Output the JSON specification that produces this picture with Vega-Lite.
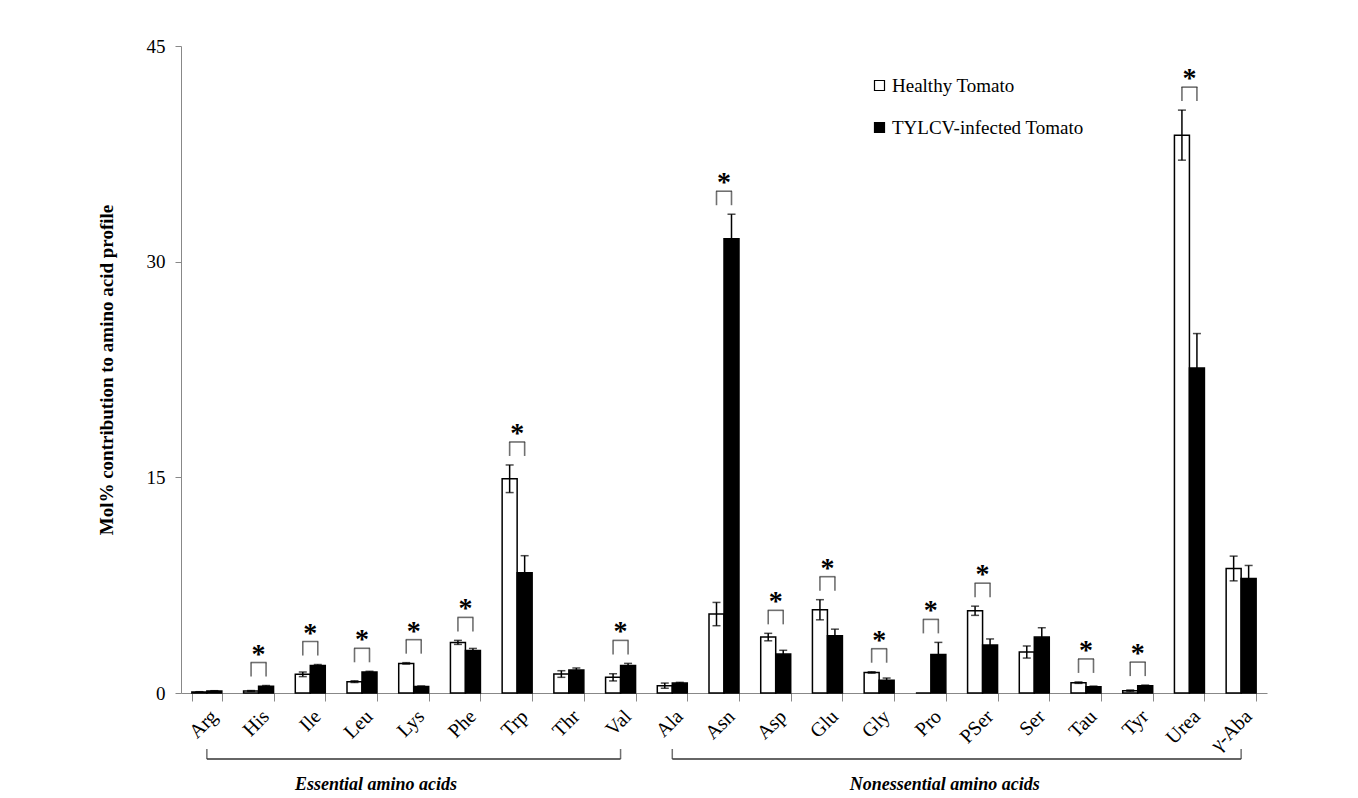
{
  "$schema": "https://vega.github.io/schema/vega-lite/v6.json",
  "autosize": {"type": "none"},
  "padding": {"left": 181, "top": 46, "right": 91, "bottom": 105},
  "width": 1086,
  "height": 647,
  "background": "white",
  "config": {
    "view": {"stroke": null},
    "font": "Liberation Serif",
    "text": {"font": "Liberation Serif"}
  },
  "datasets": {
    "amino": [
      {"amino": "Arg", "group": "Healthy Tomato", "value": 0.07, "err": 0.02, "sig": false},
      {"amino": "Arg", "group": "TYLCV-infected Tomato", "value": 0.14, "err": 0.02, "sig": false},
      {"amino": "His", "group": "Healthy Tomato", "value": 0.14, "err": 0.03, "sig": true},
      {"amino": "His", "group": "TYLCV-infected Tomato", "value": 0.47, "err": 0.05, "sig": true},
      {"amino": "Ile", "group": "Healthy Tomato", "value": 1.3, "err": 0.16, "sig": true},
      {"amino": "Ile", "group": "TYLCV-infected Tomato", "value": 1.92, "err": 0.06, "sig": true},
      {"amino": "Leu", "group": "Healthy Tomato", "value": 0.79, "err": 0.06, "sig": true},
      {"amino": "Leu", "group": "TYLCV-infected Tomato", "value": 1.46, "err": 0.05, "sig": true},
      {"amino": "Lys", "group": "Healthy Tomato", "value": 2.06, "err": 0.05, "sig": true},
      {"amino": "Lys", "group": "TYLCV-infected Tomato", "value": 0.46, "err": 0.03, "sig": true},
      {"amino": "Phe", "group": "Healthy Tomato", "value": 3.52, "err": 0.14, "sig": true},
      {"amino": "Phe", "group": "TYLCV-infected Tomato", "value": 2.96, "err": 0.14, "sig": true},
      {"amino": "Trp", "group": "Healthy Tomato", "value": 14.9, "err": 0.96, "sig": true},
      {"amino": "Trp", "group": "TYLCV-infected Tomato", "value": 8.37, "err": 1.18, "sig": true},
      {"amino": "Thr", "group": "Healthy Tomato", "value": 1.32, "err": 0.23, "sig": false},
      {"amino": "Thr", "group": "TYLCV-infected Tomato", "value": 1.6, "err": 0.14, "sig": false},
      {"amino": "Val", "group": "Healthy Tomato", "value": 1.09, "err": 0.25, "sig": true},
      {"amino": "Val", "group": "TYLCV-infected Tomato", "value": 1.92, "err": 0.14, "sig": true},
      {"amino": "Ala", "group": "Healthy Tomato", "value": 0.51, "err": 0.18, "sig": false},
      {"amino": "Ala", "group": "TYLCV-infected Tomato", "value": 0.69, "err": 0.05, "sig": false},
      {"amino": "Asn", "group": "Healthy Tomato", "value": 5.49, "err": 0.81, "sig": true},
      {"amino": "Asn", "group": "TYLCV-infected Tomato", "value": 31.6, "err": 1.7, "sig": true},
      {"amino": "Asp", "group": "Healthy Tomato", "value": 3.89, "err": 0.26, "sig": true},
      {"amino": "Asp", "group": "TYLCV-infected Tomato", "value": 2.71, "err": 0.26, "sig": true},
      {"amino": "Glu", "group": "Healthy Tomato", "value": 5.79, "err": 0.7, "sig": true},
      {"amino": "Glu", "group": "TYLCV-infected Tomato", "value": 3.98, "err": 0.46, "sig": true},
      {"amino": "Gly", "group": "Healthy Tomato", "value": 1.43, "err": 0.05, "sig": true},
      {"amino": "Gly", "group": "TYLCV-infected Tomato", "value": 0.88, "err": 0.16, "sig": true},
      {"amino": "Pro", "group": "Healthy Tomato", "value": 0, "err": 0, "sig": true},
      {"amino": "Pro", "group": "TYLCV-infected Tomato", "value": 2.68, "err": 0.84, "sig": true},
      {"amino": "PSer", "group": "Healthy Tomato", "value": 5.72, "err": 0.32, "sig": true},
      {"amino": "PSer", "group": "TYLCV-infected Tomato", "value": 3.34, "err": 0.42, "sig": true},
      {"amino": "Ser", "group": "Healthy Tomato", "value": 2.85, "err": 0.42, "sig": false},
      {"amino": "Ser", "group": "TYLCV-infected Tomato", "value": 3.89, "err": 0.65, "sig": false},
      {"amino": "Tau", "group": "Healthy Tomato", "value": 0.72, "err": 0.05, "sig": true},
      {"amino": "Tau", "group": "TYLCV-infected Tomato", "value": 0.44, "err": 0.04, "sig": true},
      {"amino": "Tyr", "group": "Healthy Tomato", "value": 0.16, "err": 0.05, "sig": true},
      {"amino": "Tyr", "group": "TYLCV-infected Tomato", "value": 0.51, "err": 0.04, "sig": true},
      {"amino": "Urea", "group": "Healthy Tomato", "value": 38.8, "err": 1.74, "sig": true},
      {"amino": "Urea", "group": "TYLCV-infected Tomato", "value": 22.6, "err": 2.4, "sig": true},
      {"amino": "γ-Aba", "group": "Healthy Tomato", "value": 8.66, "err": 0.86, "sig": false},
      {"amino": "γ-Aba", "group": "TYLCV-infected Tomato", "value": 7.97, "err": 0.9, "sig": false}
    ],
    "groups": [
      {"label": "Essential amino acids", "first": "Arg", "last": "Val", "mid": "Leu"},
      {"label": "Nonessential amino acids", "first": "Ala", "last": "γ-Aba", "mid": "Pro"}
    ]
  },
  "layer": [
    {
      "data": {"name": "amino"},
      "mark": {"type": "bar", "stroke": "black", "strokeWidth": 1.5},
      "encoding": {
        "x": {
          "field": "amino", "type": "nominal", "sort": null,
          "scale": {"paddingInner": 0.42, "paddingOuter": 0.21},
          "axis": {
            "title": null, "labelAngle": -45, "labelFont": "Liberation Serif", "labelFontSize": 20,
            "labelColor": "black", "tickBand": "extent", "domainColor": "#888", "tickColor": "#888",
            "tickSize": 8, "labelPadding": 5, "domainWidth": 1.2
          }
        },
        "xOffset": {"field": "group", "type": "nominal", "sort": ["Healthy Tomato", "TYLCV-infected Tomato"]},
        "y": {
          "field": "value", "type": "quantitative",
          "scale": {"domain": [0, 45], "nice": false},
          "axis": {
            "title": "Mol% contribution to amino acid profile", "titleFont": "Liberation Serif",
            "titleFontWeight": "bold", "titleFontSize": 19, "titleColor": "black", "titlePadding": 30,
            "values": [0, 15, 30, 45], "grid": false, "labelFont": "Liberation Serif", "labelFontSize": 19,
            "labelColor": "black", "domainColor": "#888", "tickColor": "#888", "tickSize": 6, "labelPadding": 10
          }
        },
        "fill": {
          "field": "group", "type": "nominal",
          "scale": {"domain": ["Healthy Tomato", "TYLCV-infected Tomato"], "range": ["white", "black"]},
          "legend": {
            "title": null, "orient": "none", "legendX": 689, "legendY": 30, "symbolType": "square",
            "symbolSize": 100, "symbolStrokeColor": "black", "symbolStrokeWidth": 1.2,
            "labelFont": "Liberation Serif", "labelFontSize": 19, "labelColor": "black", "labelLimit": 0,
            "rowPadding": 22, "labelOffset": 3
          }
        }
      }
    },
    {
      "data": {"name": "amino"},
      "transform": [
        {"filter": "datum.err > 0"},
        {"calculate": "datum.value - datum.err", "as": "lo"},
        {"calculate": "datum.value + datum.err", "as": "hi"}
      ],
      "layer": [
        {
          "mark": {"type": "rule", "color": "black", "strokeWidth": 1.5},
          "encoding": {
            "x": {"field": "amino", "type": "nominal", "sort": null},
            "xOffset": {"field": "group", "type": "nominal"},
            "y": {"field": "lo", "type": "quantitative"},
            "y2": {"field": "hi"}
          }
        },
        {
          "mark": {"type": "tick", "color": "black", "size": 8, "thickness": 1.5, "orient": "horizontal"},
          "encoding": {
            "x": {"field": "amino", "type": "nominal", "sort": null},
            "xOffset": {"field": "group", "type": "nominal"},
            "y": {"field": "lo", "type": "quantitative"}
          }
        },
        {
          "mark": {"type": "tick", "color": "black", "size": 8, "thickness": 1.5, "orient": "horizontal"},
          "encoding": {
            "x": {"field": "amino", "type": "nominal", "sort": null},
            "xOffset": {"field": "group", "type": "nominal"},
            "y": {"field": "hi", "type": "quantitative"}
          }
        }
      ]
    },
    {
      "data": {"name": "amino"},
      "transform": [
        {"calculate": "datum.value + datum.err", "as": "hi"},
        {"joinaggregate": [{"op": "max", "field": "hi", "as": "top"}], "groupby": ["amino"]},
        {"filter": "datum.sig && datum.group == 'Healthy Tomato'"}
      ],
      "layer": [
        {
          "mark": {"type": "tick", "color": "#333", "size": 16, "thickness": 1.6, "orient": "horizontal", "yOffset": -23},
          "encoding": {
            "x": {"field": "amino", "type": "nominal", "sort": null},
            "y": {"field": "top", "type": "quantitative"}
          }
        },
        {
          "mark": {"type": "tick", "color": "#333", "size": 14, "thickness": 1.6, "orient": "vertical", "yOffset": -16, "xOffset": -7.5},
          "encoding": {
            "x": {"field": "amino", "type": "nominal", "sort": null},
            "y": {"field": "top", "type": "quantitative"}
          }
        },
        {
          "mark": {"type": "tick", "color": "#333", "size": 14, "thickness": 1.6, "orient": "vertical", "yOffset": -16, "xOffset": 7.5},
          "encoding": {
            "x": {"field": "amino", "type": "nominal", "sort": null},
            "y": {"field": "top", "type": "quantitative"}
          }
        },
        {
          "mark": {"type": "text", "text": "*", "font": "Liberation Serif", "fontSize": 28, "fontWeight": "bold", "color": "black", "baseline": "middle", "dy": -31},
          "encoding": {
            "x": {"field": "amino", "type": "nominal", "sort": null},
            "y": {"field": "top", "type": "quantitative"}
          }
        }
      ]
    },
    {
      "data": {"name": "groups"},
      "layer": [
        {
          "mark": {"type": "rule", "color": "#333", "strokeWidth": 1.5, "yOffset": 66},
          "encoding": {
            "x": {"field": "first", "type": "nominal", "sort": null},
            "x2": {"field": "last"},
            "y": {"datum": 0}
          }
        },
        {
          "transform": [{"fold": ["first", "last"], "as": ["end", "cat"]}],
          "mark": {"type": "tick", "color": "#333", "size": 10, "thickness": 1.5, "orient": "vertical", "yOffset": 61},
          "encoding": {
            "x": {"field": "cat", "type": "nominal", "sort": null},
            "y": {"datum": 0}
          }
        },
        {
          "mark": {"type": "text", "font": "Liberation Serif", "fontSize": 18, "fontWeight": "bold", "fontStyle": "italic", "color": "black", "baseline": "middle", "dy": 92, "dx": 14},
          "encoding": {
            "x": {"field": "mid", "type": "nominal", "sort": null},
            "y": {"datum": 0},
            "text": {"field": "label"}
          }
        }
      ]
    }
  ]
}
